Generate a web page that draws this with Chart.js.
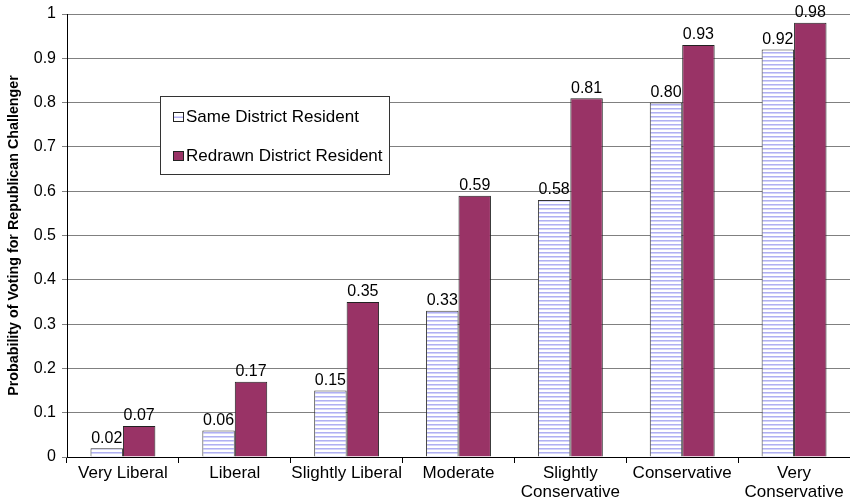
<!DOCTYPE html>
<html>
<head>
<meta charset="utf-8">
<script src="https://cdn.jsdelivr.net/npm/chart.js@4/dist/chart.umd.min.js"></script>
<style>
html,body{margin:0;padding:0;background:#fff;}
#wrap{width:850px;height:504px;}
</style>
</head>
<body>
<div id="wrap"><canvas id="c" width="850" height="504"></canvas></div>
<script>
const categories = ["Very Liberal", "Liberal", "Slightly Liberal", "Moderate", ["Slightly", "Conservative"], "Conservative", ["Very", "Conservative"]];
const sameDistrict = [0.02, 0.06, 0.15, 0.33, 0.58, 0.80, 0.92];
const redrawnDistrict = [0.07, 0.17, 0.35, 0.59, 0.81, 0.93, 0.98];
const seriesNames = ["Same District Resident", "Redrawn District Resident"];
const yTitle = "Probability of Voting for Republican Challenger";

const FONT = "'Liberation Sans', Arial, Helvetica, sans-serif";

function stripePattern() {
  const p = document.createElement('canvas');
  p.width = 4; p.height = 4;
  const g = p.getContext('2d');
  g.fillStyle = '#ffffff'; g.fillRect(0,0,4,4);
  g.fillStyle = '#b0b0f2'; g.fillRect(0,0,4,1);
  g.fillStyle = '#d4d4fa'; g.fillRect(0,1,4,1);
  return document.getElementById('c').getContext('2d').createPattern(p, 'repeat');
}
const stripes = stripePattern();
const maroon = '#993366';

const valueLabels = {
  id: 'valueLabels',
  afterDatasetsDraw(chart) {
    const ctx = chart.ctx;
    ctx.save();
    ctx.font = '16px ' + FONT;
    ctx.fillStyle = '#000';
    ctx.textAlign = 'center';
    ctx.textBaseline = 'bottom';
    chart.data.datasets.forEach((ds, i) => {
      chart.getDatasetMeta(i).data.forEach((bar, j) => {
        ctx.fillText(ds.data[j].toFixed(2), bar.x, bar.y - 2);
      });
    });
    ctx.restore();
  }
};

const boxLegend = {
  id: 'boxLegend',
  afterDraw(chart) {
    const ctx = chart.ctx;
    ctx.save();
    const x0 = 160.5, y0 = 96.5, w = 229, h = 78;
    ctx.fillStyle = '#fff';
    ctx.fillRect(x0, y0, w, h);
    ctx.strokeStyle = '#333';
    ctx.lineWidth = 1;
    ctx.strokeRect(x0, y0, w, h);
    ctx.font = '17px ' + FONT;
    ctx.textBaseline = 'middle';
    ctx.textAlign = 'left';
    const rows = [117, 156];
    chart.data.datasets.forEach((ds, i) => {
      const y = rows[i];
      ctx.fillStyle = i === 0 ? '#fff' : maroon;
      ctx.fillRect(173.5, y - 4.5, 10, 9);
      if (i === 0) { ctx.fillStyle = '#b0b0f2'; ctx.fillRect(174, y - 0.5, 9, 1.5); }
      ctx.strokeStyle = '#222';
      ctx.strokeRect(173.5, y - 4.5, 10, 9);
      ctx.fillStyle = '#000';
      ctx.fillText(ds.label, 186, y);
    });
    ctx.restore();
  }
};

new Chart(document.getElementById('c'), {
  type: 'bar',
  data: {
    labels: categories,
    datasets: [
      { label: seriesNames[0], data: sameDistrict, backgroundColor: stripes, borderColor: '#333', borderWidth: 1 },
      { label: seriesNames[1], data: redrawnDistrict, backgroundColor: maroon, borderColor: '#222', borderWidth: 1 }
    ]
  },
  options: {
    responsive: false,
    animation: false,
    devicePixelRatio: 1,
    layout: { padding: { left: 5, top: 0, right: 0, bottom: 0 } },
    plugins: { legend: { display: false }, tooltip: { enabled: false } },
    datasets: { bar: { categoryPercentage: 0.58, barPercentage: 1.0 } },
    scales: {
      x: {
        grid: { offset: true, drawOnChartArea: false, tickLength: 6, color: '#000' },
        border: { color: '#000', width: 1 },
        ticks: { color: '#000', font: { family: FONT, size: 17, lineHeight: 1.1 }, padding: 1, maxRotation: 0, autoSkip: false },
        afterFit(s) { s.height = 47; }
      },
      y: {
        min: 0, max: 1,
        grid: { color: '#808080', tickLength: 5, drawTicks: true },
        border: { color: '#000', width: 1 },
        ticks: {
          stepSize: 0.1, color: '#000', font: { family: FONT, size: 16, lineHeight: 1.0 }, padding: 6,
          callback: v => (Math.abs(v) < 1e-9 ? '0' : Math.abs(v - 1) < 1e-9 ? '1' : v.toFixed(1))
        },
        title: { display: true, text: yTitle, color: '#000', font: { family: FONT, size: 14.3, weight: 'bold' }, padding: { top: 0, bottom: 4 } },
        afterFit(s) { s.width = 62; }
      }
    }
  },
  plugins: [valueLabels, boxLegend]
});
</script>
</body>
</html>
